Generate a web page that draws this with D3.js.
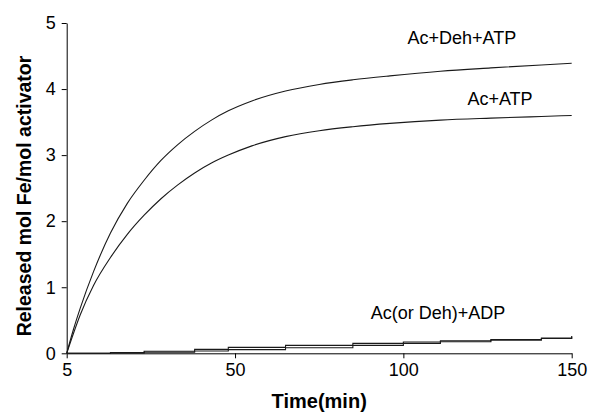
<!DOCTYPE html>
<html>
<head>
<meta charset="utf-8">
<script src="https://cdn.jsdelivr.net/npm/d3@7"></script>
<style>
  body { margin: 0; background: #fff; }
  svg { display: block; font-family: Arial, "Liberation Sans", sans-serif; }
</style>
</head>
<body>
<div id="chart"></div>
<script>
// time points (min)
const timeFast = [0, 2, 4, 8, 13, 18, 23, 28, 33, 38, 43, 48, 55, 65, 75, 85, 96, 111, 126, 141, 150];
const acDehAtp = [0, 0.36, 0.68, 1.24, 1.82, 2.27, 2.62, 2.92, 3.16, 3.36, 3.53, 3.67, 3.82, 3.97, 4.07, 4.14, 4.2, 4.27, 4.32, 4.365, 4.39];
const acAtp = [0, 0.3, 0.58, 1.03, 1.45, 1.8, 2.09, 2.34, 2.55, 2.73, 2.88, 3.0, 3.14, 3.28, 3.37, 3.43, 3.48, 3.53, 3.56, 3.585, 3.6];

const timeSlow = [0, 13, 23, 38, 48, 65, 85, 100, 111, 126, 141, 150];
const acAdp = [0, 0.01, 0.03, 0.06, 0.09, 0.12, 0.15, 0.17, 0.19, 0.21, 0.23, 0.26];
const dehAdp = [0, 0.005, 0.015, 0.035, 0.055, 0.085, 0.12, 0.15, 0.175, 0.2, 0.225, 0.25];

const xTicks = [0, 50, 100, 150];
const xTickLabels = ['5', '50', '100', '150'];
const yTicks = [0, 1, 2, 3, 4, 5];

const labels = [
  { text: 'Ac+Deh+ATP', t: 117.4, v: 4.68 },
  { text: 'Ac+ATP', t: 128.7, v: 3.76 },
  { text: 'Ac(or Deh)+ADP', t: 110.3, v: 0.52 }
];

const width = 590, height = 414;
const margin = { top: 23, right: 18.3, bottom: 60.7, left: 66.7 };
const innerW = width - margin.left - margin.right;
const innerH = height - margin.top - margin.bottom;

const svg = d3.select('#chart').append('svg')
  .attr('width', width)
  .attr('height', height);

const g = svg.append('g')
  .attr('transform', `translate(${margin.left},${margin.top})`);

const x = d3.scaleLinear().domain([0, 150]).range([0, innerW]);
const y = d3.scaleLinear().domain([0, 5]).range([innerH, 0]);

const xAxis = g.append('g')
  .attr('transform', `translate(0,${innerH})`)
  .call(d3.axisBottom(x)
    .tickValues(xTicks)
    .tickFormat((d, i) => xTickLabels[i])
    .tickSize(5)
    .tickSizeOuter(0)
    .tickPadding(5));
xAxis.selectAll('text').attr('font-size', 18).attr('fill', '#000');
xAxis.selectAll('line, path').attr('stroke', '#000');

const yAxis = g.append('g')
  .call(d3.axisLeft(y)
    .tickValues(yTicks)
    .tickFormat(d3.format('d'))
    .tickSize(5)
    .tickSizeOuter(0)
    .tickPadding(6));
yAxis.selectAll('text').attr('font-size', 18).attr('fill', '#000');
yAxis.selectAll('line, path').attr('stroke', '#000');

const smooth = d3.line()
  .x(d => x(d[0]))
  .y(d => y(d[1]))
  .curve(d3.curveMonotoneX);

const stepped = d3.line()
  .x(d => x(d[0]))
  .y(d => y(d[1]))
  .curve(d3.curveStepAfter);

const series = [
  { t: timeFast, v: acDehAtp, gen: smooth },
  { t: timeFast, v: acAtp, gen: smooth },
  { t: timeSlow, v: acAdp, gen: stepped },
  { t: timeSlow, v: dehAdp, gen: stepped }
];

series.forEach(s => {
  g.append('path')
    .datum(d3.zip(s.t, s.v))
    .attr('fill', 'none')
    .attr('stroke', '#1a1a1a')
    .attr('stroke-width', 1.1)
    .attr('d', s.gen);
});

g.selectAll('.label')
  .data(labels)
  .enter().append('text')
  .attr('class', 'label')
  .attr('x', d => x(d.t))
  .attr('y', d => y(d.v))
  .attr('text-anchor', 'middle')
  .attr('font-size', 18)
  .attr('fill', '#000')
  .text(d => d.text);

svg.append('text')
  .attr('x', margin.left + innerW / 2)
  .attr('y', 408)
  .attr('text-anchor', 'middle')
  .attr('font-size', 20)
  .attr('font-weight', 'bold')
  .text('Time(min)');

svg.append('text')
  .attr('transform', 'translate(31,196) rotate(-90)')
  .attr('text-anchor', 'middle')
  .attr('font-size', 19.5)
  .attr('font-weight', 'bold')
  .text('Released mol Fe/mol activator');
</script>
</body>
</html>
